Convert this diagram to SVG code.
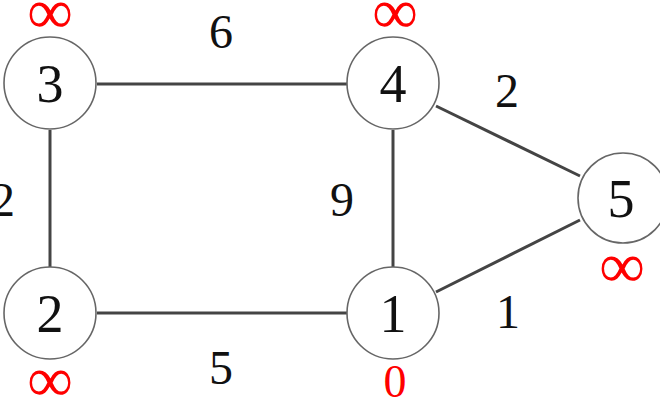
<svg xmlns="http://www.w3.org/2000/svg" width="660" height="410" viewBox="0 0 660 410">
<style>
.node circle{fill:#fff;stroke:#666;stroke-width:1.6}
.node text{font-family:"Liberation Serif","DejaVu Serif",serif;font-size:54px;fill:#111;text-anchor:middle}
.w{font-family:"Liberation Serif","DejaVu Serif",serif;font-size:48px;fill:#111;text-anchor:middle}
.node .d{font-family:"Liberation Serif","DejaVu Serif",serif;font-size:64px;fill:#f00;text-anchor:middle}
.node .z{font-family:"Liberation Serif","DejaVu Serif",serif;font-size:46px;fill:#f00;text-anchor:middle}
.edges line{stroke:#444;stroke-width:3}
</style>
<rect width="660" height="410" fill="#fff"/>
<g id="edges" class="edges">
<line x1="97" y1="84" x2="347" y2="84"/>
<line x1="50" y1="130" x2="50" y2="267"/>
<line x1="97" y1="313" x2="347" y2="313"/>
<line x1="393" y1="130" x2="393" y2="267"/>
<line x1="436" y1="106" x2="580" y2="176"/>
<line x1="436" y1="292" x2="580" y2="220"/>
</g>
<g id="weights">
<text class="w" x="221" y="48">6</text>
<text class="w" x="507" y="107">2</text>
<text class="w" x="342" y="216">9</text>
<text class="w" x="3" y="216">2</text>
<text class="w" x="508" y="328">1</text>
<text class="w" x="221" y="384">5</text>
</g>
<g id="n3" class="node"><circle cx="50" cy="83" r="46"/><text x="50" y="102">3</text><text class="d" x="50" y="33">∞</text></g>
<g id="n4" class="node"><circle cx="393" cy="83" r="46"/><text x="393" y="102">4</text><text class="d" x="395" y="33">∞</text></g>
<g id="n5" class="node"><circle cx="623" cy="198" r="45"/><text x="621" y="217">5</text><text class="d" x="622" y="287">∞</text></g>
<g id="n2" class="node"><circle cx="50" cy="313" r="46"/><text x="50" y="332">2</text><text class="d" x="50" y="401">∞</text></g>
<g id="n1" class="node"><circle cx="393" cy="313" r="46"/><text x="393" y="332">1</text><text class="z" x="395" y="397">0</text></g>
</svg>
